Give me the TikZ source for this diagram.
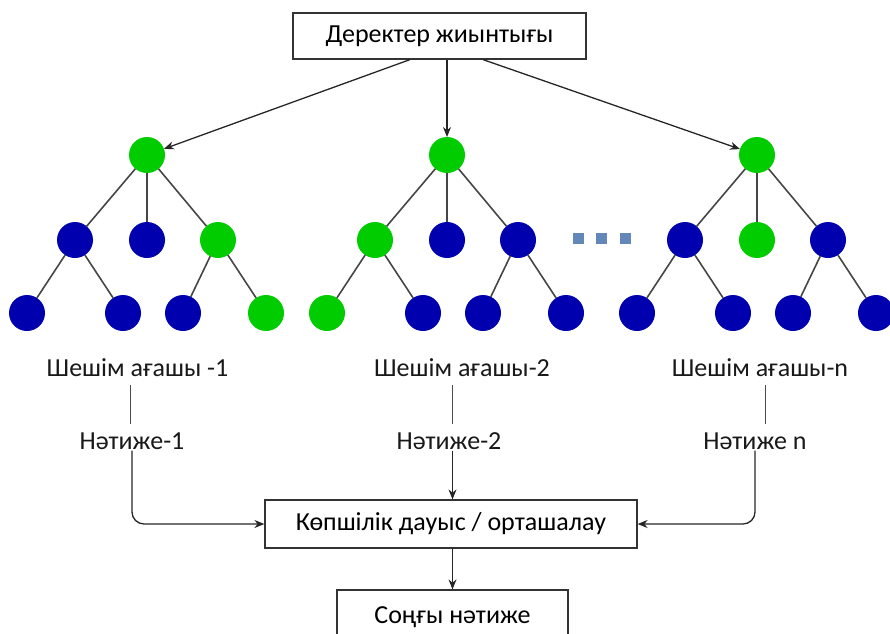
\documentclass[tikz,border=0pt]{standalone}
\usepackage{fontspec}
\setmainfont{Carlito}
\usepackage{tikz}
\usetikzlibrary{arrows,arrows.meta,shapes,calc,positioning}
\definecolor{leafGreen}{RGB}{0,204,0}
\definecolor{nodeBlue}{RGB}{0,0,175}
\definecolor{dotBlue}{RGB}{100,135,185}
\definecolor{edgeGray}{RGB}{70,70,70}
\tikzstyle{edge}  =[line width=1.6pt, edgeGray]
\tikzstyle{arr}   =[->, >={Stealth[length=10pt,width=8pt]},
                    line width=1.3pt, black!85]
\tikzstyle{gvertex}=[circle, fill=leafGreen, minimum size=36pt,
                    inner sep=0pt, outer sep=0pt]
\tikzstyle{bvertex}=[circle, fill=nodeBlue, minimum size=36pt,
                    inner sep=0pt, outer sep=0pt]
\tikzstyle{box}   =[draw=black!80, line width=1.2pt, inner sep=2pt]
\tikzstyle{lbl}   =[inner sep=1pt, text=black!90]
\tikzstyle{dot}   =[fill=dotBlue, minimum size=11pt, inner sep=0pt]

\begin{document}
\begin{tikzpicture}[x=1pt, y=-1pt, font=\fontsize{26}{30}\selectfont]
    \useasboundingbox (0,0) rectangle (890,633);

    % data set
    \node (dset)[box, minimum width=293pt, minimum height=46pt]
        at (439.5,36) {Деректер жиынтығы};

    % the trees: root, level 2 (a,b,c), level 3 (under a and c)
    \foreach \t/\x/\cr/\ca/\cb/\cc/\cal/\car/\ccl/\ccr in
        {1/147/g/b/b/g/b/b/b/g,
         2/447/g/g/b/b/g/b/b/b,
         3/757/g/b/g/b/b/b/b/b}
    {
        \node (\t r)[\cr vertex] at (\x,155) {};
        \node (\t a)[\ca vertex] at (\x-72,240) {};
        \node (\t b)[\cb vertex] at (\x,240) {};
        \node (\t c)[\cc vertex] at (\x+71,240) {};
        \node (\t al)[\cal vertex] at (\x-120,313) {};
        \node (\t ar)[\car vertex] at (\x-24,313) {};
        \node (\t cl)[\ccl vertex] at (\x+36,313) {};
        \node (\t cr)[\ccr vertex] at (\x+119,313) {};
        \foreach \i/\j in {r/a,r/b,r/c,a/al,a/ar,c/cl,c/cr}
            \draw [edge] (\t\i) -- (\t\j);
    }

    % dots between tree 2 and tree 3
    \foreach \i/\x in {1/578,2/601,3/625}
        \node (dot\i)[dot] at (\x,238) {};

    \draw [arr] ([xshift=-29.5pt]dset.south) -- (1r);
    \draw [arr] (dset.south -| 2r) -- (2r);
    \draw [arr] ([xshift=43.5pt]dset.south) -- (3r);

    % tree names and results
    \node (tree1)[lbl] at (137.5,368) {Шешім ағашы -1};
    \node (tree2)[lbl] at (462,368) {Шешім ағашы-2};
    \node (tree3)[lbl] at (760,368) {Шешім ағашы-n};
    \node (res1)[lbl] at (132,441) {Нәтиже-1};
    \node (res2)[lbl] at (449,441) {Нәтиже-2};
    \node (res3)[lbl] at (755,441) {Нәтиже n};

    \foreach \i/\dx in {1/-2,2/3.5,3/10}
        \draw [line width=0.9pt, black!70, shorten <=7pt, shorten >=7pt]
            ([xshift=\dx pt]tree\i.south -| res\i) -- ([xshift=\dx pt]res\i.north);

    % voting
    \node (vote)[box, minimum width=372pt, minimum height=48pt]
        at (451,524) {Көпшілік дауыс / орташалау};
    \node (final)[box, minimum width=231pt, minimum height=54pt]
        at (452.5,617) {Соңғы нәтиже};

    \draw [arr, rounded corners=12pt] (res1.south) |- (vote.west);
    \draw [arr] ([xshift=3.5pt]res2.south) -- ([xshift=3.5pt]res2.south |- vote.north);
    \draw [arr, rounded corners=12pt] (res3.south) |- (vote.east);
    \draw [arr] ([xshift=3.5pt]vote.south -| res2) -- ([xshift=3.5pt]final.north -| res2);

\end{tikzpicture}
\end{document}
